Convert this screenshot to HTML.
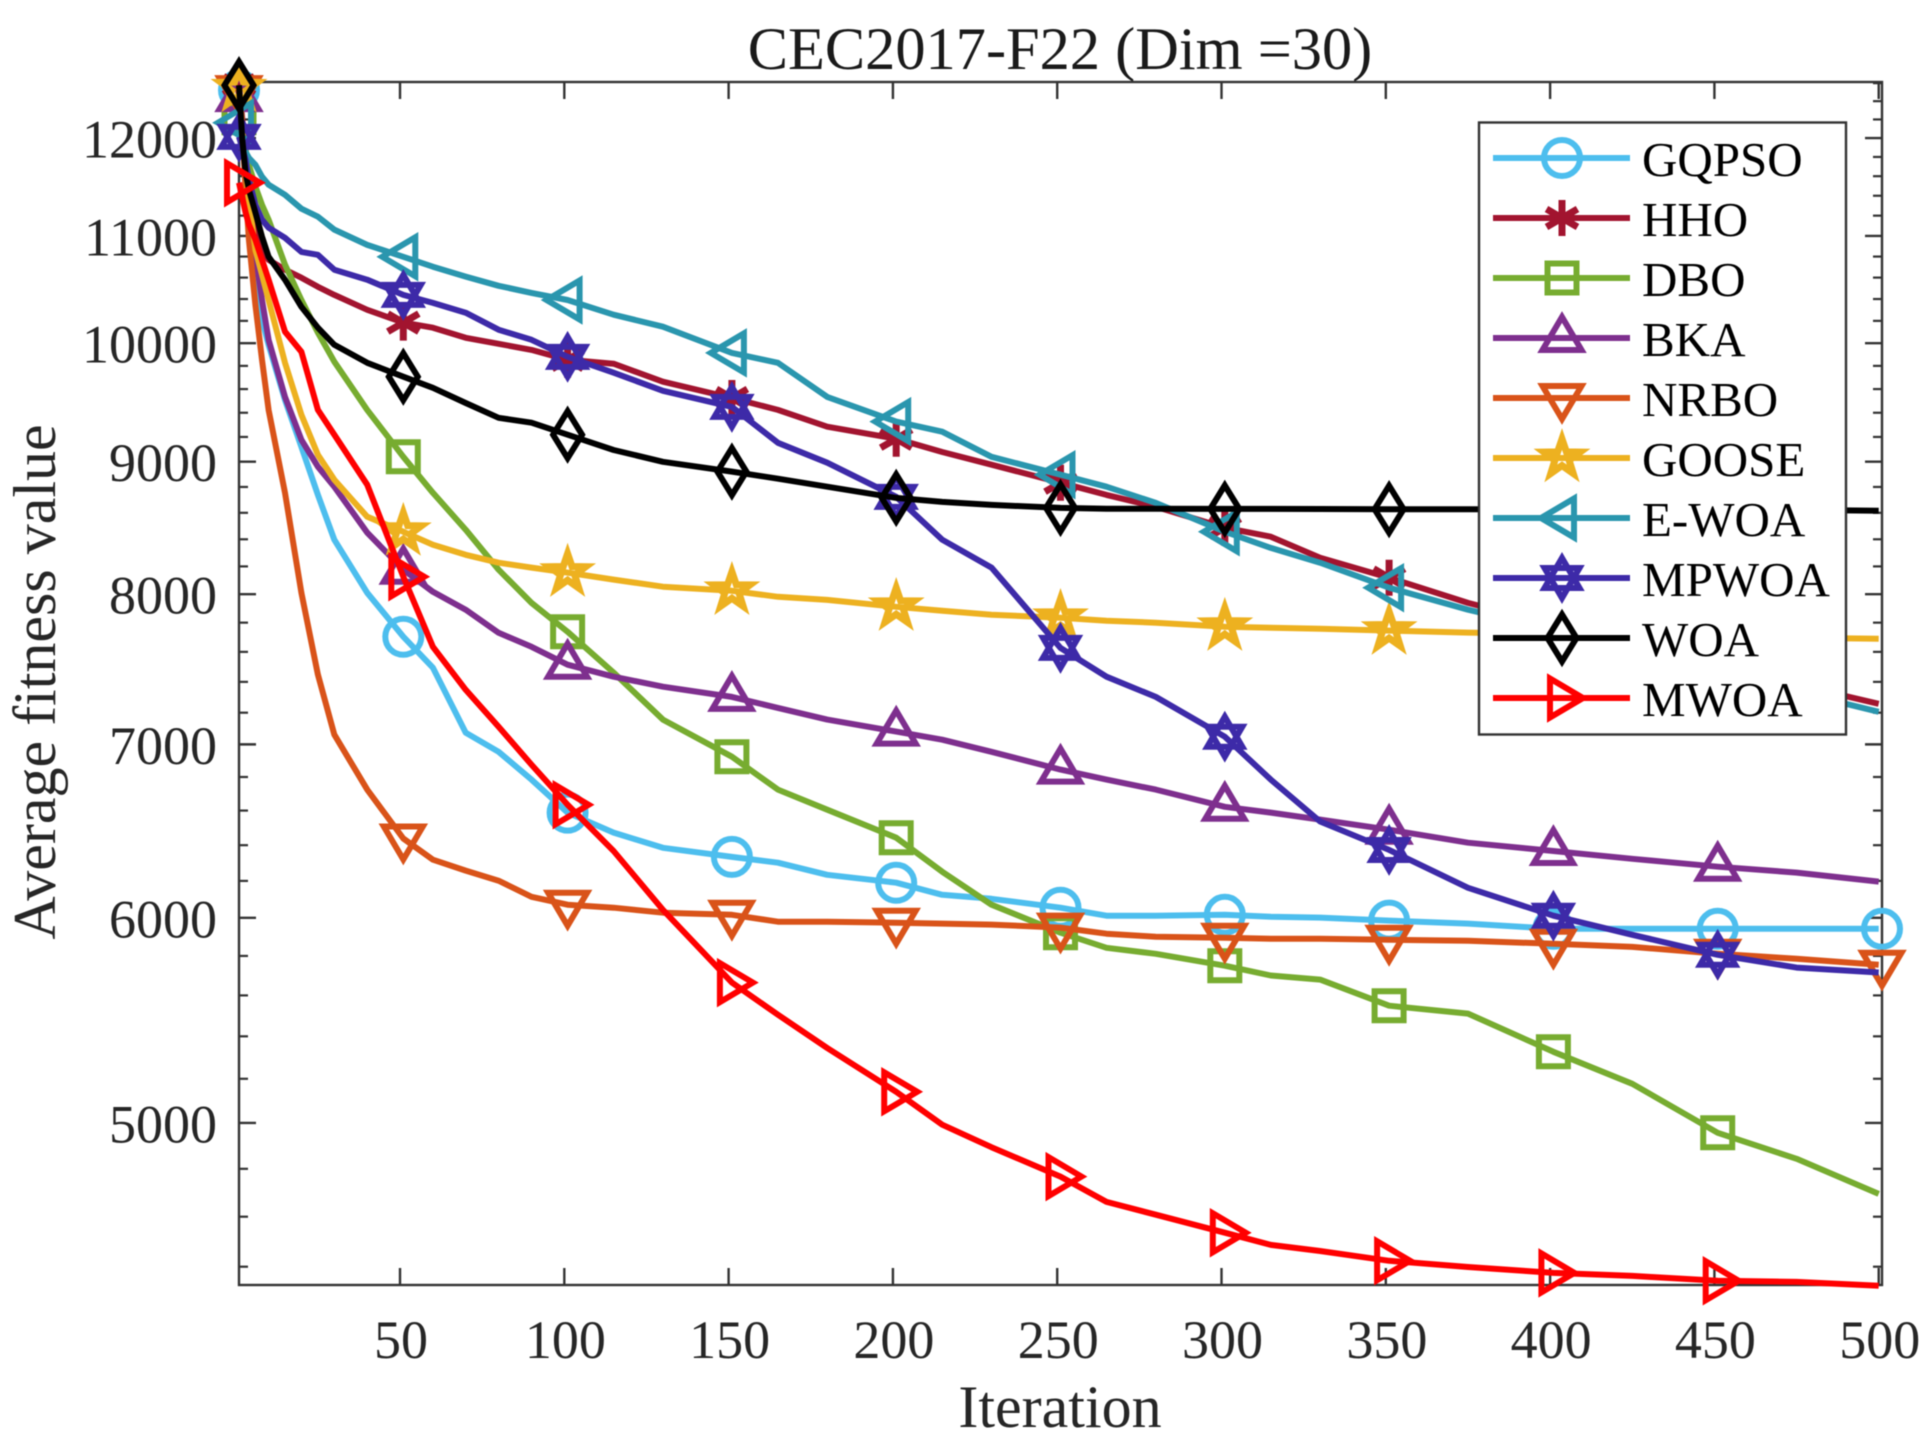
<!DOCTYPE html>
<html lang="en">
<head>
<meta charset="utf-8">
<title>CEC2017-F22 (Dim =30)</title>
<style>
html,body{margin:0;padding:0;background:#fff}
svg{display:block;font-family:"Liberation Serif","Times New Roman",serif;filter:blur(0.4px)}
</style>
</head>
<body>
<svg id="chart" xmlns="http://www.w3.org/2000/svg" width="1920" height="1440" viewBox="0 0 1920 1440">
  <rect x="0" y="0" width="1920" height="1440" fill="#fff"/>
  <text x="1060" y="69" font-size="60.4" text-anchor="middle" fill="#1a1a1a">CEC2017-F22 (Dim =30)</text>
  <text x="1060" y="1427" font-size="60" text-anchor="middle" fill="#262626">Iteration</text>
  <text transform="translate(55 682) rotate(-90)" font-size="60" text-anchor="middle" fill="#262626">Average fitness value</text>
  <g id="axes"></g>
  <g id="series"></g>
  <g id="legend"></g>
</svg>
<script>
const iterations = [1,2,3,4,6,8,10,15,20,25,
  30,40,51,60,70,80,90,101,115,130,
  151,165,180,201,215,230,251,265,280,301,
  315,330,351,375,401,425,451,475,500];
const gqpsoValues = [12522,12089,11615,11210,10675,10211,9985,9507,9119,8738,
  8397,8010,7703,7494,7073,6954,6784,6588,6472,6385,
  6334,6301,6234,6190,6124,6102,6054,6011,6011,6016,
  6006,6001,5985,5969,5942,5942,5942,5942,5942];
const hhoValues = [12577,12197,11873,11564,11210,10864,10769,10675,10599,10514,
  10438,10301,10184,10138,10048,9994,9940,9853,9819,9663,
  9524,9424,9284,9185,9078,8976,8833,8738,8646,8487,
  8419,8263,8118,7938,7786,7648,7514,7382,7257];
const dboValues = [12219,12035,11873,11718,11492,11309,11160,10722,10391,10094,
  9836,9424,9039,8754,8472,8176,7938,7737,7461,7156,
  6924,6724,6605,6443,6251,6070,5921,5842,5811,5750,
  5700,5679,5549,5510,5326,5177,4956,4843,4694];
const bkaValues = [12445,12089,11667,11309,10817,10391,10030,9533,9177,8960,
  8802,8450,8176,8017,7890,7730,7634,7514,7434,7368,
  7302,7231,7156,7080,7029,6954,6845,6784,6724,6622,
  6588,6547,6489,6414,6367,6323,6279,6246,6196];
const nrboValues = [12522,12089,11461,10963,10346,9853,9424,8754,8010,7448,
  7061,6724,6438,6318,6257,6201,6113,6070,6054,6027,
  6016,5979,5979,5974,5969,5964,5948,5916,5900,5895,
  5889,5889,5884,5879,5863,5847,5811,5785,5755];
const gooseValues = [12544,12089,11667,11358,10864,10628,10391,9827,9383,9055,
  8857,8570,8457,8359,8285,8227,8191,8155,8104,8053,
  8024,7981,7959,7911,7883,7855,7834,7813,7800,7772,
  7765,7758,7745,7731,7724,7717,7710,7696,7689];
const ewoaValues = [12165,11981,11852,11790,11718,11595,11513,11410,11269,11190,
  11062,10913,10798,10703,10609,10523,10457,10391,10256,10147,
  9914,9827,9533,9326,9243,9039,8896,8802,8676,8457,
  8336,8227,8046,7890,7751,7613,7467,7335,7206];
const mpwoaValues = [12013,11895,11770,11564,11309,11160,11081,10982,10845,10817,
  10675,10580,10438,10364,10274,10120,10030,9879,9741,9585,
  9449,9152,8992,8723,8397,8191,7627,7434,7302,7048,
  6784,6536,6373,6162,6011,5910,5806,5740,5715];
const woaValues = [12577,11981,11636,11461,11230,10992,10798,10580,10328,10138,
  9985,9827,9706,9611,9482,9358,9317,9218,9094,8999,
  8921,8865,8802,8715,8684,8661,8638,8631,8631,8630,
  8630,8629,8628,8627,8626,8625,8624,8622,8616];
const mwoaValues = [11533,11379,11230,11111,10963,10769,10580,10102,9923,9424,
  9218,8818,8125,7634,7348,7111,6875,6634,6367,6043,
  5664,5505,5344,5140,4992,4893,4767,4661,4608,4535,
  4486,4462,4423,4399,4376,4364,4345,4341,4326];
const markerIterations = [1,51,101,151,201,251,301,351,401,451];
const extendedMarkerIterations = [1,51,101,151,201,251,301,351,401,451,501];
const xTickValues = [50,100,150,200,250,300,350,400,450,500];
const yMajorTicks = [5000,6000,7000,8000,9000,10000,11000,12000];
const yMinorTicks = [4400,4600,4800,5200,5400,5600,5800,6200,6400,6600,6800,7200,7400,7600,7800,8200,8400,8600,8800,9200,9400,9600,9800,10200,10400,10600,10800,11200,11400,11600,11800,12200,12400,12600];

const seriesList = [
  {name:'GQPSO',slug:'gqpso',values:gqpsoValues,color:'#4DBEEE',marker:'circle',marks:extendedMarkerIterations},
  {name:'HHO',slug:'hho',values:hhoValues,color:'#A2142F',marker:'asterisk',marks:markerIterations},
  {name:'DBO',slug:'dbo',values:dboValues,color:'#77AC30',marker:'square',marks:markerIterations},
  {name:'BKA',slug:'bka',values:bkaValues,color:'#7E2F8E',marker:'up',marks:markerIterations},
  {name:'NRBO',slug:'nrbo',values:nrboValues,color:'#D95319',marker:'down',marks:extendedMarkerIterations},
  {name:'GOOSE',slug:'goose',values:gooseValues,color:'#EDB120',marker:'star',marks:markerIterations},
  {name:'E-WOA',slug:'e-woa',values:ewoaValues,color:'#2A96AE',marker:'left',marks:markerIterations},
  {name:'MPWOA',slug:'mpwoa',values:mpwoaValues,color:'#3D2AA8',marker:'hexagram',marks:markerIterations},
  {name:'WOA',slug:'woa',values:woaValues,color:'#000000',marker:'diamond',marks:markerIterations},
  {name:'MWOA',slug:'mwoa',values:mwoaValues,color:'#FF0000',marker:'right',marks:markerIterations}
];

const NS = 'http://www.w3.org/2000/svg';
const plot = {left:239,right:1882,top:82,bottom:1285};
const xDomain = [1,501];
const yDomain = [4329,12613];
function xScale(i){
  return plot.left + (i - xDomain[0]) / (xDomain[1] - xDomain[0]) * (plot.right - plot.left);
}
function yScale(v){
  return plot.bottom - (Math.log(v) - Math.log(yDomain[0])) / (Math.log(yDomain[1]) - Math.log(yDomain[0])) * (plot.bottom - plot.top);
}
function make(tag, attrs, parent){
  const el = document.createElementNS(NS, tag);
  for (const k in attrs) el.setAttribute(k, attrs[k]);
  parent.appendChild(el);
  return el;
}
function valueAt(values, it){
  if (it >= iterations[iterations.length - 1]) return values[values.length - 1];
  for (let k = 1; k < iterations.length; k++) {
    if (it <= iterations[k]) {
      const t = (it - iterations[k - 1]) / (iterations[k] - iterations[k - 1]);
      return values[k - 1] + t * (values[k] - values[k - 1]);
    }
  }
  return values[0];
}
function markerGlyph(kind, cx, cy, color, parent){
  const common = {fill:'none',stroke:color,'stroke-width':6,'stroke-linejoin':'miter','stroke-miterlimit':10};
  const poly = function(pts, over){
    const p = pts.map(function(q){return (cx + q[0]).toFixed(1) + ',' + (cy + q[1]).toFixed(1);}).join(' ');
    return make('polygon', Object.assign({points:p}, common, over || {}), parent);
  };
  if (kind === 'circle') return make('circle', Object.assign({cx:cx,cy:cy,r:18}, common), parent);
  if (kind === 'square') return poly([[-14.5,-14.5],[14.5,-14.5],[14.5,14.5],[-14.5,14.5]]);
  if (kind === 'up') return poly([[0,-21],[19.5,12],[-19.5,12]]);
  if (kind === 'down') return poly([[0,21],[19.5,-12],[-19.5,-12]]);
  if (kind === 'left') return poly([[-21,0],[12,19.5],[12,-19.5]]);
  if (kind === 'right') return poly([[21,0],[-12,19.5],[-12,-19.5]]);
  if (kind === 'diamond') return poly([[0,-23.5],[14.5,0],[0,23.5],[-14.5,0]]);
  if (kind === 'hexagram') {
    const g = make('g', {}, parent);
    make('polygon', Object.assign({points:[[0,-20],[17.5,10],[-17.5,10]].map(function(q){return (cx+q[0])+','+(cy+q[1]);}).join(' ')}, common), g);
    make('polygon', Object.assign({points:[[0,20],[17.5,-10],[-17.5,-10]].map(function(q){return (cx+q[0])+','+(cy+q[1]);}).join(' ')}, common), g);
    return g;
  }
  if (kind === 'star') {
    const pts = [];
    for (let k = 0; k < 10; k++) {
      const r = k % 2 === 0 ? 19 : 7.5;
      const a = -Math.PI / 2 + k * Math.PI / 5;
      pts.push([r * Math.cos(a), r * Math.sin(a)]);
    }
    return poly(pts, {'stroke-width':7});
  }
  if (kind === 'asterisk') {
    const g = make('g', {}, parent);
    [[0,-18,0,18],[-15.5,-9,15.5,9],[-15.5,9,15.5,-9]].forEach(function(s){
      make('line', {x1:cx+s[0],y1:cy+s[1],x2:cx+s[2],y2:cy+s[3],stroke:color,'stroke-width':7}, g);
    });
    return g;
  }
}

/* axes */
const axesGroup = document.getElementById('axes');
const tickColor = '#333333';
const frame = make('rect', {x:plot.left,y:plot.top,width:plot.right-plot.left,height:plot.bottom-plot.top,fill:'none',stroke:tickColor,'stroke-width':2.4}, axesGroup);


xTickValues.forEach(function(t){
  const x = xScale(t);
  const bottomTick = make('line', {x1:x,x2:x,y1:plot.bottom,y2:plot.bottom-17,stroke:tickColor,'stroke-width':2.4}, axesGroup);
  
  
  const topTick = make('line', {x1:x,x2:x,y1:plot.top,y2:plot.top+17,stroke:tickColor,'stroke-width':2.4}, axesGroup);
  
  
  const label = make('text', {x:x+1,y:1358,'font-size':54,'text-anchor':'middle',fill:'#262626'}, axesGroup);
  label.textContent = String(t);
  
  
});
yMajorTicks.forEach(function(t){
  const y = yScale(t);
  const leftTick = make('line', {x1:plot.left,x2:plot.left+17,y1:y,y2:y,stroke:tickColor,'stroke-width':2.4}, axesGroup);
  
  
  const rightTick = make('line', {x1:plot.right,x2:plot.right-17,y1:y,y2:y,stroke:tickColor,'stroke-width':2.4}, axesGroup);
  
  
  const label = make('text', {x:217,y:y+19.5,'font-size':54,'text-anchor':'end',fill:'#262626'}, axesGroup);
  label.textContent = String(t);
  
  
});
yMinorTicks.forEach(function(t){
  const y = yScale(t);
  const leftMinor = make('line', {x1:plot.left,x2:plot.left+9,y1:y,y2:y,stroke:tickColor,'stroke-width':2.2}, axesGroup);
  
  
  const rightMinor = make('line', {x1:plot.right,x2:plot.right-9,y1:y,y2:y,stroke:tickColor,'stroke-width':2.2}, axesGroup);
  
  
});

/* series */
const seriesGroup = document.getElementById('series');
seriesList.forEach(function(s){
  const g = make('g', {}, seriesGroup);
  
  
  const pts = iterations.map(function(it, k){return xScale(it).toFixed(1) + ',' + yScale(s.values[k]).toFixed(1);}).join(' ');
  const line = make('polyline', {points:pts,fill:'none',stroke:s.color,'stroke-width':6,'stroke-linejoin':'round','stroke-linecap':'butt'}, g);
  
  
  s.marks.forEach(function(it){
    const m = markerGlyph(s.marker, xScale(it), yScale(valueAt(s.values, it)), s.color, g);
    
    
  });
});

/* legend */
const legendGroup = document.getElementById('legend');
const legendBox = make('rect', {x:1479,y:122.5,width:367,height:612,fill:'#fff',stroke:tickColor,'stroke-width':2.4}, legendGroup);


seriesList.forEach(function(s, k){
  const cy = 158 + k * 60;
  const g = make('g', {}, legendGroup);
  
  
  const sample = make('line', {x1:1493,x2:1630,y1:cy,y2:cy,stroke:s.color,'stroke-width':6}, g);
  
  
  const glyph = markerGlyph(s.marker, 1562, cy, s.color, g);
  
  
  const label = make('text', {x:1642,y:cy+18,'font-size':49,fill:'#000'}, g);
  label.textContent = s.name;
  
  
});
</script>
</body>
</html>
